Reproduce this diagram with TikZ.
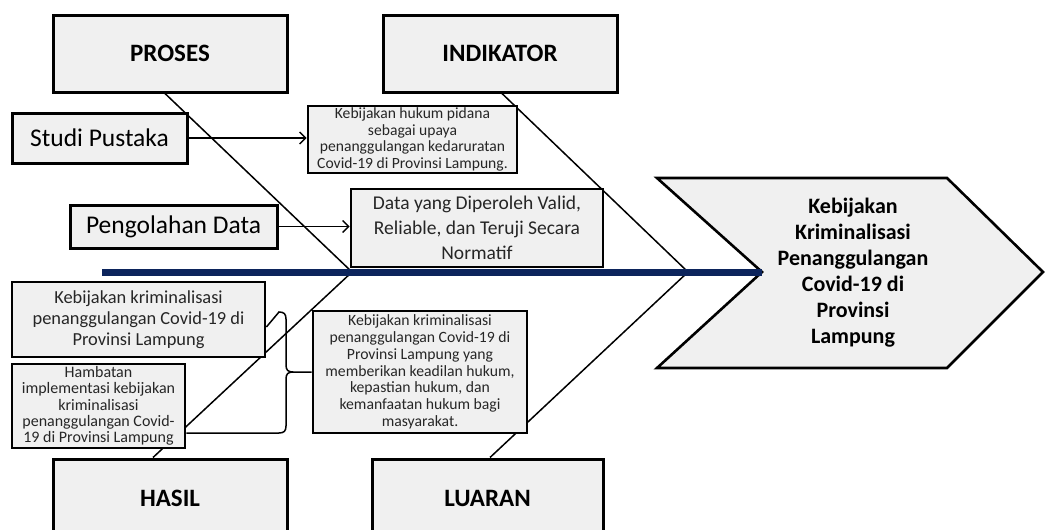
\documentclass[tikz,border=0pt]{standalone}
\usepackage{fontspec}
\setmainfont{Carlito}
\usepackage{xcolor}
\usetikzlibrary{arrows.meta,backgrounds}

\definecolor{spineblue}{RGB}{12,36,92}
\definecolor{boxgray}{RGB}{240,240,240}

\begin{document}
\begin{tikzpicture}[x=1pt,y=-1pt,
  mainbox/.style={draw, line width=3pt, fill=boxgray, inner sep=0pt,
    minimum width=234pt, minimum height=77pt,
    font=\fontsize{25}{30}\selectfont\bfseries},
  sidebox/.style={draw, line width=3pt, fill=boxgray, inner sep=0pt,
    align=center, font=\fontsize{25.5}{30}\selectfont},
  notebox/.style={draw, line width=2.8pt, fill=boxgray, inner sep=0pt,
    align=center, text=black!85},
  bone/.style={line width=1.5pt},
  flow/.style={line width=1.4pt, -{Straight Barb[length=6pt,width=12pt,line width=1.4pt]}}
]
\useasboundingbox (0,0) rectangle (1045,530);
\clip (0,0) rectangle (1045,530);
\def\ys{272}      % spine level

% head of the fish
\coordinate (tail) at (102,\ys);
\coordinate (notch) at (762,\ys);
\coordinate (j1) at (352,\ys);
\coordinate (j2) at (688,\ys);
\draw[line width=2.6pt, fill=boxgray, line join=miter]
  (657,178) -- (947,178) -- (1043,\ys) -- (947,368) -- (657,368) -- (notch) -- cycle;
\node[font=\fontsize{22}{26}\selectfont\bfseries, align=center] (head) at (853,273)
  {Kebijakan\\Kriminalisasi\\Penanggulangan\\Covid-19 di\\Provinsi\\Lampung};
\draw[spineblue, line width=7pt] (tail) -- (notch);

% category boxes
\node[mainbox] (proses) at (170,53.5) {PROSES};
\node[mainbox] (indikator) at (500,53.5) {INDIKATOR};
\node[mainbox, minimum height=78pt] (hasil) at (170,498) {HASIL};
\node[mainbox, minimum width=231pt, minimum height=78pt] (luaran) at (487.5,498) {LUARAN};

% proses side
\node[sidebox, minimum width=175pt, minimum height=50pt] (studi) at (99.5,138) {Studi Pustaka};
\node[sidebox, minimum width=207pt, minimum height=43pt] (olah) at (173.5,226.5) {Pengolahan Data};

% indikator side
\node[notebox, minimum width=209pt, minimum height=67pt,
  font=\fontsize{15.6}{16.7}\selectfont] (kebhukum) at (412.5,139.5)
  {Kebijakan hukum pidana\\sebagai upaya\\penanggulangan kedaruratan\\Covid-19 di Provinsi Lampung.};
\node[notebox, minimum width=252pt, minimum height=78pt,
  font=\fontsize{19.5}{25}\selectfont] (data) at (477,228)
  {Data yang Diperoleh Valid,\\Reliable, dan Teruji Secara\\Normatif};

% hasil side
\node[notebox, minimum width=253pt, minimum height=75pt,
  font=\fontsize{18.4}{21}\selectfont] (hasil1) at (138.5,319.5)
  {Kebijakan kriminalisasi\\penanggulangan Covid-19 di\\Provinsi Lampung};
\node[notebox, minimum width=173pt, minimum height=84pt,
  font=\fontsize{16}{16.3}\selectfont] (hasil2) at (98.5,406)
  {Hambatan\\implementasi kebijakan\\kriminalisasi\\penanggulangan Covid-\\19 di Provinsi Lampung};

% luaran side
\node[notebox, minimum width=214pt, minimum height=122pt,
  font=\fontsize{15.7}{16.8}\selectfont] (luaran1) at (420,372)
  {Kebijakan kriminalisasi\\penanggulangan Covid-19 di\\Provinsi Lampung yang\\memberikan keadilan hukum,\\kepastian hukum, dan\\kemanfaatan hukum bagi\\masyarakat.};

% bones behind the boxes
\begin{pgfonlayer}{background}
\draw[bone] ([xshift=-5pt]proses.south) -- (j1);
\draw[bone] ([xshift=2pt]indikator.south) -- (j2);
\draw[bone] (j1) -- ([xshift=-17pt]hasil.north);
\draw[bone] (j2) -- ([xshift=2.5pt]luaran.north);
\end{pgfonlayer}

% arrows
\draw[flow] (studi.east) -- (studi.east -| kebhukum.west);
\draw[flow] (olah.east) -- (olah.east -| data.west);

% brace
\draw[bone] ([yshift=-7.5pt]hasil1.east) -- (279,312)
  .. controls (284,312) and (286,314) .. (286,319) -- (286,365)
  .. controls (286,370) and (288,372) .. (293,372) -- (luaran1.west);
\draw[bone] (293,372) .. controls (288,372) and (286,374) .. (286,379) -- (286,426)
  .. controls (286,431) and (284,433) .. (279,433) -- ([yshift=-27pt]hasil2.east);
\end{tikzpicture}
\end{document}
